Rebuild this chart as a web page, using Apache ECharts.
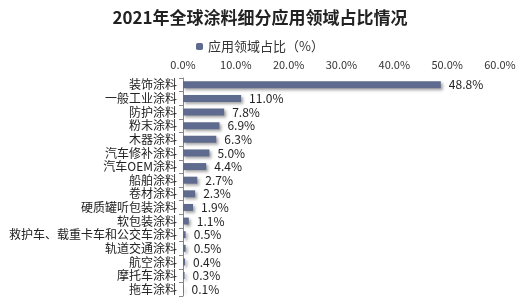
<!DOCTYPE html>
<html><head><meta charset="utf-8">
<script src="https://cdn.jsdelivr.net/npm/echarts@6/dist/echarts.min.js"></script>
<style>html,body{margin:0;padding:0;background:#fff}#c{width:520px;height:303px}</style>
</head><body><div id="c"></div>
<script>
const categories = ["装饰涂料","一般工业涂料","防护涂料","粉末涂料","木器涂料","汽车修补涂料","汽车OEM涂料","船舶涂料","卷材涂料","硬质罐听包装涂料","软包装涂料","救护车、载重卡车和公交车涂料","轨道交通涂料","航空涂料","摩托车涂料","拖车涂料"];
const values = [48.8,11.0,7.8,6.9,6.3,5.0,4.4,2.7,2.3,1.9,1.1,0.5,0.5,0.4,0.3,0.1];
const seriesName = "应用领域占比（%）";
const chart = echarts.init(document.getElementById('c'));
const font = '"Noto Sans CJK SC", sans-serif';
chart.setOption({
  animation:false,
  title:{text:"2021年全球涂料细分应用领域占比情况",left:'center',top:4,textStyle:{fontFamily:font,fontSize:17,fontWeight:'bold',color:'#222'}},
  legend:{top:35,left:'center',itemWidth:7,itemHeight:7,itemGap:3,textStyle:{fontFamily:font,fontSize:13,color:'#333'},data:[seriesName]},
  grid:{left:183,right:20,top:78,bottom:7},
  xAxis:{type:'value',position:'top',min:0,max:60,interval:10,
    axisLabel:{formatter:v=>v.toFixed(1)+'%',fontFamily:font,fontSize:11,color:'#333',margin:8},
    axisLine:{show:false},axisTick:{show:false},splitLine:{show:false}},
  yAxis:{type:'category',inverse:true,data:categories,
    axisLine:{show:true,lineStyle:{color:'#888'}},
    axisTick:{show:true,length:4,lineStyle:{color:'#888'}},
    axisLabel:{interval:0,hideOverlap:false,fontFamily:font,fontSize:12,lineHeight:13,color:'#222',margin:6}},
  series:[{name:seriesName,type:'bar',data:values,barWidth:7,
    itemStyle:{color:'#5f6b8e',shadowColor:'rgba(0,0,0,0.35)',shadowBlur:3,shadowOffsetX:2,shadowOffsetY:2},
    label:{show:true,position:'right',distance:8,formatter:p=>p.value.toFixed(1)+'%',fontFamily:font,fontSize:12,color:'#222'}}]
});
</script></body></html>
